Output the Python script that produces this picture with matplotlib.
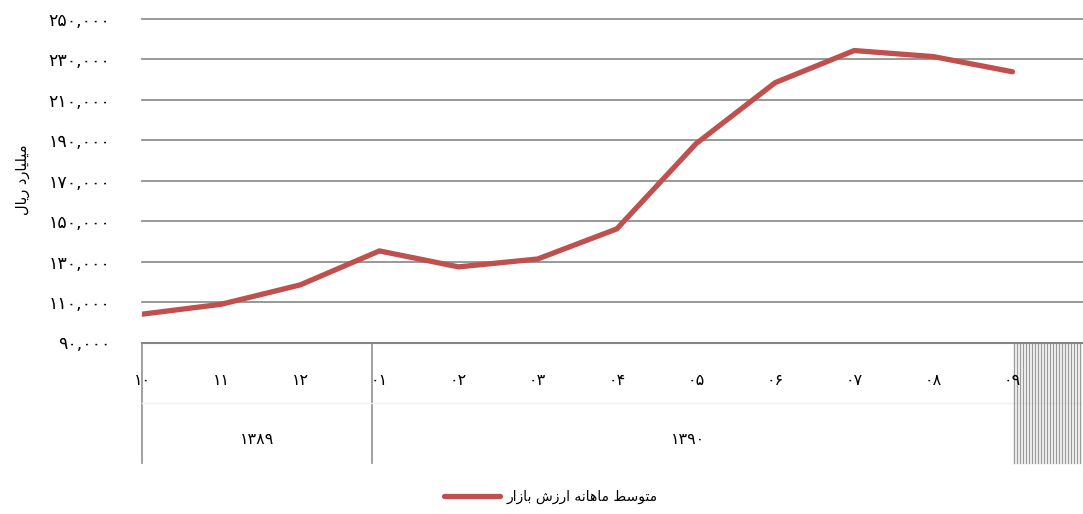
import numpy as np
import matplotlib
matplotlib.use("Agg")
import matplotlib.pyplot as plt
from matplotlib.ticker import FuncFormatter
from matplotlib.lines import Line2D

### Data
months = ['۱۰', '۱۱', '۱۲', '۰۱', '۰۲', '۰۳', '۰۴', '۰۵', '۰۶', '۰۷', '۰۸', '۰۹']
years = ['۱۳۸۹', '۱۳۹۰']
months_per_year = [3, 9]
market_value = [104000, 108900, 118500, 135300, 127400, 131300,
                146200, 188300, 218500, 234400, 231400, 223900]
series_name = 'متوسط ماهانه ارزش بازار'
y_label = 'میلیارد ریال'
y_ticks = [90000, 110000, 130000, 150000, 170000, 190000, 210000, 230000, 250000]
###

RED = '#C0504D'
GRID = '#868686'

# matplotlib does no arabic shaping, so pick presentation forms by hand
# (isolated, final, initial, medial)
FORMS = {
    'ا': ('\uFE8D', '\uFE8E', None, None),
    'ب': ('\uFE8F', '\uFE90', '\uFE91', '\uFE92'),
    'ت': ('\uFE95', '\uFE96', '\uFE97', '\uFE98'),
    'د': ('\uFEA9', '\uFEAA', None, None),
    'ر': ('\uFEAD', '\uFEAE', None, None),
    'ز': ('\uFEAF', '\uFEB0', None, None),
    'س': ('\uFEB1', '\uFEB2', '\uFEB3', '\uFEB4'),
    'ش': ('\uFEB5', '\uFEB6', '\uFEB7', '\uFEB8'),
    'ط': ('\uFEC1', '\uFEC2', '\uFEC3', '\uFEC4'),
    'ل': ('\uFEDD', '\uFEDE', '\uFEDF', '\uFEE0'),
    'م': ('\uFEE1', '\uFEE2', '\uFEE3', '\uFEE4'),
    'ن': ('\uFEE5', '\uFEE6', '\uFEE7', '\uFEE8'),
    'ه': ('\uFEE9', '\uFEEA', '\uFEEB', '\uFEEC'),
    'و': ('\uFEED', '\uFEEE', None, None),
    'ی': ('\uFBFC', '\uFBFD', '\uFBFE', '\uFBFF'),
}


def shape(text):
    out = []
    for i, ch in enumerate(text):
        if ch not in FORMS:
            out.append(ch)
            continue
        prev = text[i - 1] if i > 0 else ''
        nxt = text[i + 1] if i + 1 < len(text) else ''
        joins_prev = prev in FORMS and FORMS[prev][2] is not None
        joins_next = nxt in FORMS and FORMS[ch][2] is not None
        f = FORMS[ch]
        if joins_prev and joins_next:
            out.append(f[3])
        elif joins_prev:
            out.append(f[1])
        elif joins_next:
            out.append(f[2])
        else:
            out.append(f[0])
    return ''.join(reversed(out))


def fa_digits(s):
    return s.translate(str.maketrans('0123456789', '۰۱۲۳۴۵۶۷۸۹'))


plt.rcParams['font.family'] = ['DejaVu Sans']

fig = plt.figure(figsize=(10.83, 5.14), dpi=100)
ax = fig.add_axes([142 / 1083, 1 - 342.5 / 514, 1 - 142 / 1083, (342.5 - 19) / 514])

x = np.arange(len(market_value))
ax.plot(x, market_value, color=RED, lw=3.8, solid_capstyle='round', solid_joinstyle='round',
        zorder=3)

px_per_unit = 870.5 / (len(x) - 1)
xmax = (1083 - 142) / px_per_unit
ax.set_xlim(0, xmax)
ax.set_ylim(y_ticks[0], y_ticks[-1])
ax.set_yticks(y_ticks)
ax.yaxis.set_major_formatter(FuncFormatter(lambda v, p: fa_digits(f'{int(v):,}')))
ax.tick_params(axis='y', length=0, pad=23, labelsize=12.5)
ax.set_xticks([])
ax.grid(axis='y', color=GRID, lw=1.2)
for gl in ax.get_ygridlines():
    gl.set_clip_on(False)
ax.set_axisbelow(True)
for s in ['top', 'right', 'left']:
    ax.spines[s].set_visible(False)
ax.spines['bottom'].set_color(GRID)
ax.spines['bottom'].set_linewidth(1.5)

trans = ax.get_xaxis_transform()
for i, m in enumerate(months):
    ax.text(i, -0.116, m, transform=trans, ha='center', va='center', fontsize=11.5)

# year groups and separators
start = 0
edges = [0]
for yr, n in zip(years, months_per_year):
    end = start + n
    edges.append(end - 1 if end == len(x) else end - 0.09)
    start = end
ax.text(1.45, -0.30, years[0], transform=trans, ha='center', va='center', fontsize=11.5)
ax.text(6.9, -0.30, years[1], transform=trans, ha='center', va='center', fontsize=11.5)
for e in edges[:2]:
    ax.add_line(Line2D([e, e], [0, -0.372], transform=trans, color='#999999', lw=1.3,
                       clip_on=False))
ax.add_line(Line2D([0, xmax], [-0.187, -0.187], transform=trans, color='#f0f0f0', lw=1,
                   clip_on=False))
# packed empty category ticks after the last month
for hx in np.arange(len(x) - 1 + 0.02, xmax, 3 / px_per_unit):
    ax.add_line(Line2D([hx, hx], [0, -0.372], transform=trans, color='#9a9a9a', lw=1,
                       clip_on=False))

fig.text(22 / 1083, 1 - 180 / 514, shape(y_label), rotation=90, ha='center', va='center',
         fontsize=10.5)

handle = Line2D([], [], color=RED, lw=3.8, solid_capstyle='round')
fig.legend([handle], [shape(series_name)], loc='center', bbox_to_anchor=(551 / 1083, 1 - 497 / 514),
           frameon=False, fontsize=10, handlelength=4.0, handletextpad=0.5)

fig.savefig('out.png', dpi=100)
